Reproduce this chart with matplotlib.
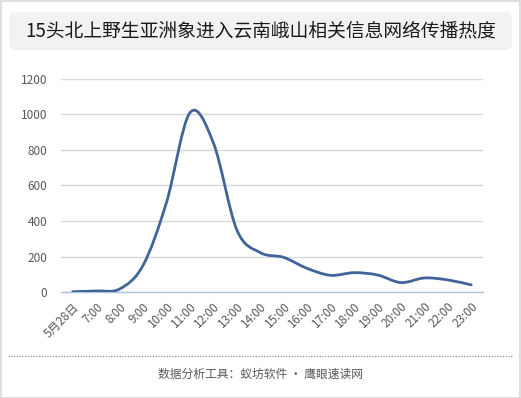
import matplotlib
matplotlib.use("Agg")
import matplotlib.pyplot as plt
from matplotlib.patches import FancyBboxPatch, Rectangle
from matplotlib.path import Path
from matplotlib.patches import PathPatch
import numpy as np

plt.rcParams['font.family'] = ['Noto Sans CJK SC', 'DejaVu Sans']

title = "15头北上野生亚洲象进入云南峨山相关信息网络传播热度"
footer = "数据分析工具：蚁坊软件 · 鹰眼速读网"
categories = ["5月28日", "7:00", "8:00", "9:00", "10:00", "11:00", "12:00", "13:00",
              "14:00", "15:00", "16:00", "17:00", "18:00", "19:00", "20:00",
              "21:00", "22:00", "23:00"]
values = [2, 6, 17, 150, 505, 1010, 840, 350, 222, 195, 133, 94, 109, 96, 53, 79, 68, 40]
yticks = [0, 200, 400, 600, 800, 1000, 1200]

W, H = 521, 398
fig = plt.figure(figsize=(W / 100, H / 100), dpi=100)

# outer border
fig.patches.append(Rectangle((0.5 / W, 0.5 / H), 1 - 1.5 / W, 1 - 1.5 / H, transform=fig.transFigure,
                             fill=False, edgecolor="#d9d9d9", linewidth=1.2))
# title box
fig.patches.append(FancyBboxPatch((9 / W, 1 - 50 / H), 503 / W, 38 / H,
                                  boxstyle="round,pad=0,rounding_size=0.012",
                                  transform=fig.transFigure, facecolor="#f2f2f2",
                                  edgecolor="none", mutation_aspect=W / H))
fig.text(0.5, 1 - 31 / H, title, ha="center", va="center", fontsize=13.5, color="#1a1a1a")

# axes
ax = fig.add_axes([61 / W, 1 - 292 / H, 422 / W, 213 / H])
x = np.arange(len(categories))
y = np.array(values, dtype=float)

# smoothed line (Catmull-Rom style Bezier through the data points)
verts = [(x[0], y[0])]
codes = [Path.MOVETO]
t = 1 / 6
n = len(x)
for i in range(n - 1):
    p0 = (x[i - 1], y[i - 1]) if i > 0 else (x[i], y[i])
    p1 = (x[i], y[i])
    p2 = (x[i + 1], y[i + 1])
    p3 = (x[i + 2], y[i + 2]) if i + 2 < n else (x[i + 1], y[i + 1])
    c1 = (p1[0] + (p2[0] - p0[0]) * t, p1[1] + (p2[1] - p0[1]) * t)
    c2 = (p2[0] - (p3[0] - p1[0]) * t, p2[1] - (p3[1] - p1[1]) * t)
    verts += [c1, c2, p2]
    codes += [Path.CURVE4] * 3
ax.add_patch(PathPatch(Path(verts, codes), facecolor="none", edgecolor="#41659a",
                       linewidth=2.0, capstyle="round", joinstyle="round", zorder=3))
ax.plot(x, y, alpha=0)

ax.set_xlim(-0.5, len(categories) - 0.5)
ax.set_ylim(0, 1200)
ax.set_yticks(yticks)
ax.set_yticklabels([str(v) for v in yticks])
ax.set_xticks(x)
ax.set_xticklabels(categories, rotation=45, ha="right", va="top", rotation_mode="anchor")
ax.tick_params(axis="both", length=0, labelsize=8.5, colors="#595959")
ax.tick_params(axis="x", pad=6)
ax.tick_params(axis="y", pad=10)
ax.grid(axis="y", color="#d9d9d9", linewidth=1)
ax.set_axisbelow(True)
for s in ["top", "right", "left"]:
    ax.spines[s].set_visible(False)
ax.spines["bottom"].set_color("#adc3df")
ax.spines["bottom"].set_linewidth(1)
ax.spines["bottom"].set_zorder(2)

# footer
fig.add_artist(plt.Line2D([8 / W, 513 / W], [1 - 356 / H, 1 - 356 / H], transform=fig.transFigure,
                          color="#7f7f7f", linewidth=0.8, linestyle=(0, (1, 1.5))))
fig.text(0.5, 1 - 374 / H, footer, ha="center", va="center", fontsize=8.5, color="#595959")

fig.savefig("out.png", dpi=100)
